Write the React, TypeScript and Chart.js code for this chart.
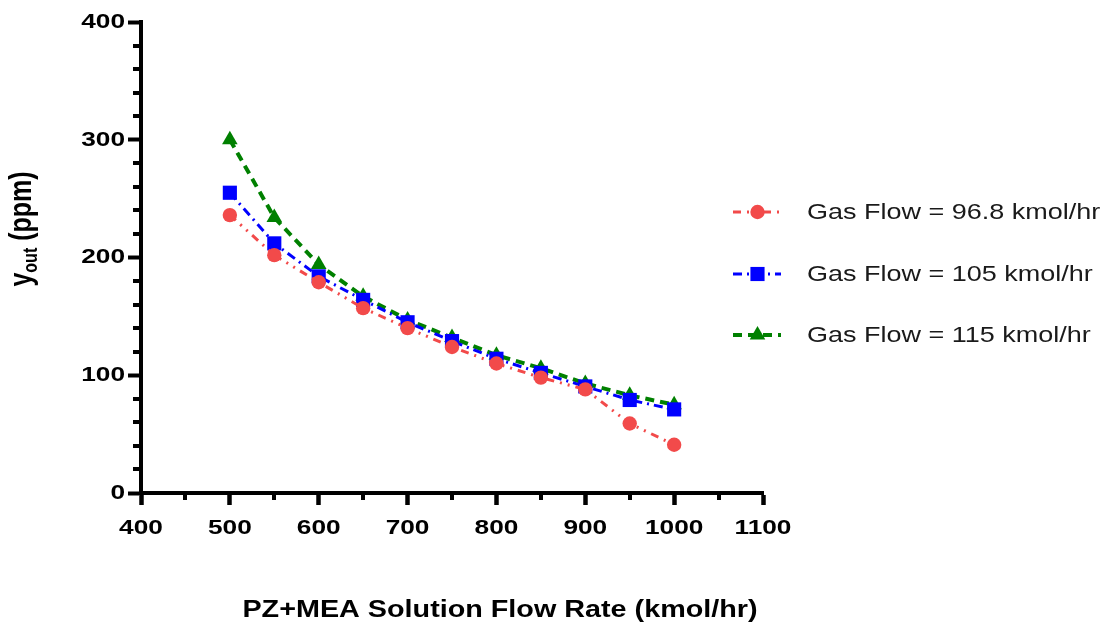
import React, { useEffect, useRef } from 'react';
import { Chart, registerables } from 'chart.js';

Chart.register(...registerables);

// ---- data ----
const X_VALUES = [500, 550, 600, 650, 700, 750, 800, 850, 900, 950, 1000];
const SERIES_96_8 = [236, 202, 179, 157, 140, 124, 110, 98, 88, 59, 41];
const SERIES_105 = [255, 212, 184, 164, 145, 129, 114, 102, 90.5, 79, 71];
const SERIES_115 = [300, 234, 194, 167, 147, 132, 117, 106, 93, 83, 75];
const SERIES_LABELS = ['Gas Flow = 96.8 kmol/hr', 'Gas Flow = 105 kmol/hr', 'Gas Flow = 115 kmol/hr'];
const X_TICKS = [400, 500, 600, 700, 800, 900, 1000, 1100];
const X_MINOR_TICKS = [450, 550, 650, 750, 850, 950, 1050];
const Y_TICKS = [0, 100, 200, 300, 400];
const Y_MINOR_TICKS = [20, 40, 60, 80, 120, 140, 160, 180, 220, 240, 260, 280, 320, 340, 360, 380];
const X_TITLE = 'PZ+MEA Solution Flow Rate (kmol/hr)';
const Y_TITLE_MAIN = 'y';
const Y_TITLE_SUB = 'out';
const Y_TITLE_REST = ' (ppm)';

const FONT = '"Liberation Sans", Arial, Helvetica, sans-serif';
const STRETCH = 1.25;

const COLORS = ['rgb(242,74,74)', 'rgb(0,0,255)', 'rgb(0,128,0)'];
const DASHES = [[8, 6, 2, 6, 2, 6], [9, 5, 2, 5], [9, 6]];
const WIDTHS = [3, 3, 4];
const STYLES = ['circle', 'rect', 'triangle'];
const RADII = [7.2, 10, 9];

function drawMarker(ctx: CanvasRenderingContext2D, style: string, x: number, y: number, r: number, color: string) {
  ctx.save();
  ctx.setLineDash([]);
  ctx.fillStyle = color;
  ctx.beginPath();
  if (style === 'circle') {
    ctx.arc(x, y, r, 0, Math.PI * 2);
  } else if (style === 'rect') {
    const s = Math.SQRT1_2 * r;
    ctx.rect(x - s, y - s, 2 * s, 2 * s);
  } else {
    for (let k = 0; k < 3; k++) {
      const a = (k * 2 * Math.PI) / 3;
      const px = x + Math.sin(a) * r;
      const py = y - Math.cos(a) * r;
      if (k === 0) ctx.moveTo(px, py);
      else ctx.lineTo(px, py);
    }
    ctx.closePath();
  }
  ctx.fill();
  ctx.restore();
}

function stretchedText(
  ctx: CanvasRenderingContext2D,
  text: string,
  x: number,
  y: number,
  font: string,
  align: CanvasTextAlign,
  baseline: CanvasTextBaseline,
  color = '#000'
) {
  ctx.save();
  ctx.translate(x, y);
  ctx.scale(STRETCH, 1);
  ctx.font = font;
  ctx.fillStyle = color;
  ctx.textAlign = align;
  ctx.textBaseline = baseline;
  ctx.fillText(text, 0, 0);
  ctx.restore();
}

const decorPlugin = {
  id: 'decor',
  afterDraw(chart: any) {
    const ctx: CanvasRenderingContext2D = chart.ctx;
    const xs = chart.scales.x;
    const ys = chart.scales.y;
    const area = chart.chartArea;

    // minor ticks
    ctx.save();
    ctx.strokeStyle = '#000';
    ctx.lineWidth = 4;
    ctx.setLineDash([]);
    X_MINOR_TICKS.forEach((v) => {
      const px = Math.round(xs.getPixelForValue(v));
      ctx.beginPath();
      ctx.moveTo(px, area.bottom);
      ctx.lineTo(px, area.bottom + 7);
      ctx.stroke();
    });
    Y_MINOR_TICKS.forEach((v) => {
      const py = Math.round(ys.getPixelForValue(v));
      ctx.beginPath();
      ctx.moveTo(area.left, py);
      ctx.lineTo(area.left - 8, py);
      ctx.stroke();
    });
    ctx.restore();

    // tick labels
    const tickFont = `bold 21px ${FONT}`;
    X_TICKS.forEach((v) => {
      stretchedText(ctx, String(v), xs.getPixelForValue(v), 528, tickFont, 'center', 'middle');
    });
    Y_TICKS.forEach((v) => {
      stretchedText(ctx, String(v), 125, ys.getPixelForValue(v), tickFont, 'right', 'middle');
    });

    // x title
    stretchedText(ctx, X_TITLE, 500, 617, `bold 23px ${FONT}`, 'center', 'alphabetic');

    // y title (rotated, with subscript)
    ctx.save();
    ctx.translate(31, 229);
    ctx.scale(STRETCH, 1);
    ctx.rotate(-Math.PI / 2);
    ctx.fillStyle = '#000';
    ctx.textBaseline = 'alphabetic';
    ctx.textAlign = 'left';
    const mainFont = `bold 25px ${FONT}`;
    const subFont = `bold 16px ${FONT}`;
    ctx.font = mainFont;
    const w1 = ctx.measureText(Y_TITLE_MAIN).width;
    const w3 = ctx.measureText(Y_TITLE_REST).width;
    ctx.font = subFont;
    const w2 = ctx.measureText(Y_TITLE_SUB).width;
    const total = w1 + w2 + w3;
    let cx = -total / 2;
    ctx.font = mainFont;
    ctx.fillText(Y_TITLE_MAIN, cx, 0);
    cx += w1;
    ctx.font = subFont;
    ctx.fillText(Y_TITLE_SUB, cx, 5);
    cx += w2;
    ctx.font = mainFont;
    ctx.fillText(Y_TITLE_REST, cx, 0);
    ctx.restore();

    // legend
    const rows = [212, 274, 335];
    chart.data.datasets.forEach((ds: any, i: number) => {
      const y = rows[i];
      ctx.save();
      ctx.strokeStyle = COLORS[i];
      ctx.lineWidth = WIDTHS[i];
      ctx.setLineDash(DASHES[i]);
      ctx.beginPath();
      ctx.moveTo(733, y);
      ctx.lineTo(781, y);
      ctx.stroke();
      ctx.restore();
      drawMarker(ctx, STYLES[i], 757.5, y, RADII[i], COLORS[i]);
      stretchedText(ctx, ds.label, 807, y + 1, `21.6px ${FONT}`, 'left', 'middle', '#1a1a1a');
    });
  },
};

export default function App() {
  const canvasRef = useRef<HTMLCanvasElement | null>(null);

  useEffect(() => {
    document.body.style.margin = '0';
    const canvas = canvasRef.current;
    if (!canvas) return;
    const seriesList = [SERIES_96_8, SERIES_105, SERIES_115];
    const chart = new Chart(canvas, {
      type: 'line',
      data: {
        datasets: seriesList.map((s, i) => ({
          label: SERIES_LABELS[i],
          data: X_VALUES.map((x, j) => ({ x, y: s[j] })),
          borderColor: COLORS[i],
          backgroundColor: COLORS[i],
          borderWidth: WIDTHS[i],
          borderDash: DASHES[i],
          pointStyle: STYLES[i] as any,
          pointRadius: RADII[i],
          pointBackgroundColor: COLORS[i],
          pointBorderWidth: 0,
          pointHoverRadius: RADII[i],
          tension: 0,
          fill: false,
          clip: false as any,
        })),
      },
      options: {
        animation: false,
        responsive: false,
        maintainAspectRatio: false,
        layout: { padding: { left: 0, top: 22, right: 348, bottom: 0 } },
        plugins: {
          legend: { display: false },
          tooltip: { enabled: false },
          title: { display: false },
        },
        scales: {
          x: {
            type: 'linear',
            min: 400,
            max: 1100,
            ticks: { stepSize: 100, display: false },
            grid: {
              display: true,
              drawOnChartArea: false,
              drawTicks: true,
              tickLength: 12,
              tickWidth: 4.5,
              tickColor: '#000',
            },
            border: { display: true, color: '#000', width: 4 },
            afterFit: (s: any) => {
              s.height = 129;
            },
          },
          y: {
            type: 'linear',
            min: 0,
            max: 400,
            ticks: { stepSize: 100, display: false },
            grid: {
              display: true,
              drawOnChartArea: false,
              drawTicks: true,
              tickLength: 13,
              tickWidth: 4,
              tickColor: '#000',
            },
            border: { display: true, color: '#000', width: 4 },
            afterFit: (s: any) => {
              s.width = 141;
            },
          },
        },
      },
      plugins: [decorPlugin],
    });
    return () => chart.destroy();
  }, []);

  return (
    <div style={{ position: 'fixed', left: 0, top: 0, width: 1111, height: 622, background: '#fff' }}>
      <canvas ref={canvasRef} width={1111} height={622} style={{ display: 'block', width: 1111, height: 622 }} />
    </div>
  );
}
